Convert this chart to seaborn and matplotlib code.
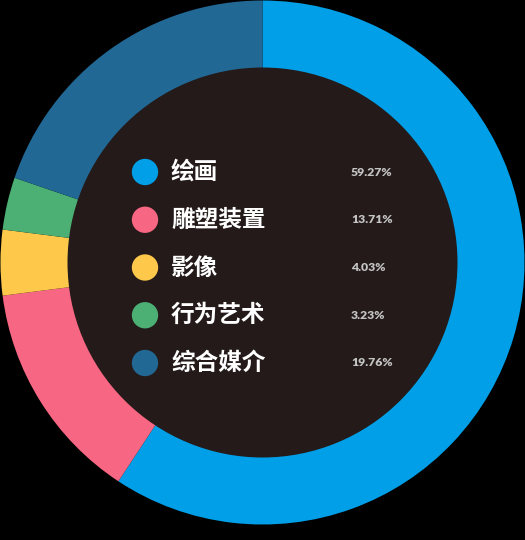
import matplotlib
matplotlib.use("Agg")
import matplotlib.pyplot as plt
import seaborn as sns
import pandas as pd
from matplotlib.patches import Circle

categories = ["绘画", "雕塑装置", "影像", "行为艺术", "综合媒介"]
percentages = [59.27, 13.71, 4.03, 3.23, 19.76]
colors = ["#009fe8", "#f76683", "#fec94b", "#4caf74", "#226895"]

sns.set_theme(style="white")
plt.rcParams['font.family'] = ['Noto Sans CJK SC', 'DejaVu Sans']

W, H = 525, 540
fig = plt.figure(figsize=(W / 100, H / 100), dpi=100, facecolor="black")
ax = fig.add_axes([0, 0, 1, 1])
ax.set_facecolor("black")

cx, cy = 262.5, H - 262.5
R_out, R_in = 262, 195

ax.pie(percentages, colors=colors, startangle=90, counterclock=False,
       radius=R_out, center=(cx, cy),
       wedgeprops=dict(linewidth=0, antialiased=True))
ax.add_patch(Circle((cx, cy), R_in, facecolor="#231a19", edgecolor="none", zorder=3))

# legend inside the donut
row_y = [H - 172 - i * 47.75 for i in range(len(categories))]
df = pd.DataFrame({"x": [145] * len(categories), "y": row_y, "cat": categories})
sns.scatterplot(data=df, x="x", y="y", hue="cat", palette=colors, s=360,
                edgecolor="none", legend=False, ax=ax, zorder=5)
for cat, pct, y in zip(categories, percentages, row_y):
    ax.text(171, y, cat, color="white", fontsize=17, fontweight="bold",
            va="center", ha="left", zorder=6)
    ax.text(351, y, f"{pct:.2f}%", color="#c4c4c4", fontsize=8.8, fontweight="heavy",
            family=["Lato", "DejaVu Sans"], va="center", ha="left", zorder=6)

ax.set_xlim(0, W)
ax.set_ylim(0, H)
ax.set_aspect("equal")
ax.set_xlabel("")
ax.set_ylabel("")
ax.axis("off")
fig.savefig("out.png", dpi=100, facecolor="black")
